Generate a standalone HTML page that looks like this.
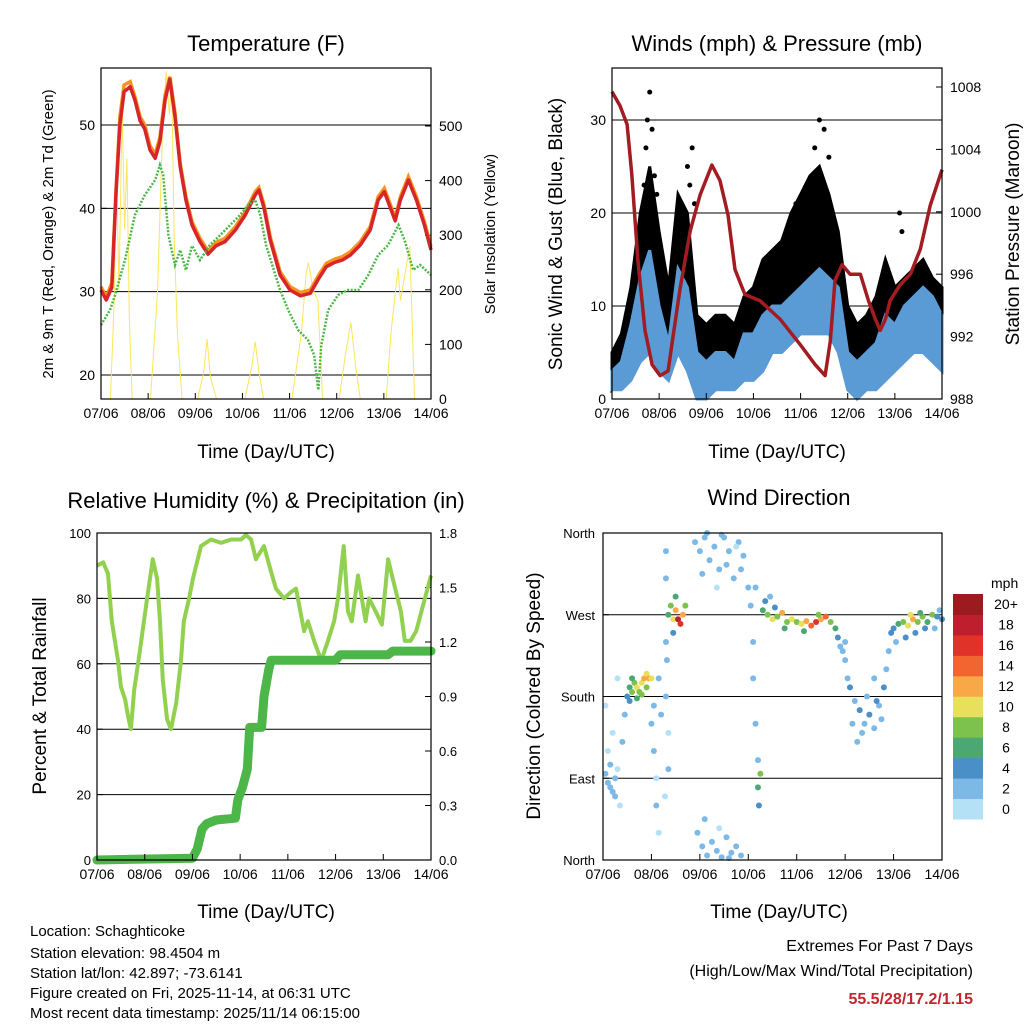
<!DOCTYPE html>
<html><head><meta charset="utf-8">
<style>
html,body{margin:0;padding:0;background:#fff;}
svg{display:block;font-family:"Liberation Sans",sans-serif;}
</style></head>
<body>
<svg id="chart" width="1024" height="1024" viewBox="0 0 1024 1024" xmlns="http://www.w3.org/2000/svg">
<rect width="1024" height="1024" fill="#fff"/>
<g id="layer"></g>
<g font-size="22" text-anchor="middle">
<text x="266" y="51">Temperature (F)</text>
<text x="777" y="51">Winds (mph) &amp; Pressure (mb)</text>
<text x="266" y="508">Relative Humidity (%) &amp; Precipitation (in)</text>
<text x="779" y="505">Wind Direction</text>
</g>
<g font-size="19" text-anchor="middle">
<text x="266" y="458">Time (Day/UTC)</text>
<text x="777" y="458">Time (Day/UTC)</text>
<text x="266" y="918">Time (Day/UTC)</text>
<text x="779" y="918">Time (Day/UTC)</text>
<text transform="translate(562,234) rotate(-90)">Sonic Wind &amp; Gust (Blue, Black)</text>
<text transform="translate(1019,234) rotate(-90)">Station Pressure (Maroon)</text>
<text transform="translate(46,696) rotate(-90)">Percent &amp; Total Rainfall</text>
<text transform="translate(540,696) rotate(-90)">Direction (Colored By Speed)</text>
</g>
<g font-size="15" text-anchor="middle">
<text transform="translate(53,234) rotate(-90)">2m &amp; 9m T (Red, Orange) &amp; 2m Td (Green)</text>
<text transform="translate(495,234) rotate(-90)">Solar Insolation (Yellow)</text>
</g>
<g font-size="15">
<text x="30" y="936">Location: Schaghticoke</text>
<text x="30" y="958">Station elevation: 98.4504 m</text>
<text x="30" y="978">Station lat/lon: 42.897; -73.6141</text>
<text x="30" y="998">Figure created on Fri, 2025-11-14, at 06:31 UTC</text>
<text x="30" y="1018">Most recent data timestamp: 2025/11/14 06:15:00</text>
</g>
<g font-size="16" text-anchor="end">
<text x="973" y="951">Extremes For Past 7 Days</text>
<text x="973" y="976">(High/Low/Max Wind/Total Precipitation)</text>
<text x="973" y="1004" fill="#c1272d" font-weight="bold">55.5/28/17.2/1.15</text>
</g>
</svg>
<script>
// ---- Temperature data (day offset, value) ----
const tDays = [0,.11,.23,.32,.40,.49,.62,.72,.83,.93,1.04,1.15,1.25,1.36,1.46,1.57,1.68,1.80,1.93,2.10,2.27,2.44,2.63,2.85,3.06,3.27,3.35,3.46,3.59,3.80,4.01,4.23,4.44,4.61,4.78,4.95,5.12,5.29,5.50,5.71,5.88,6.01,6.14,6.24,6.35,6.52,6.69,6.86,7.0];
const tRed = [30.2,29,30.5,42,50,54,54.6,53,50.5,49.5,47,46,48,53,55.5,51,45,41,38,36,34.5,35.5,36,37.4,39.2,41.6,42.2,40,36.2,32,30.2,29.5,29.8,31.5,33,33.5,33.8,34.4,35.6,37.4,41,42,40,38.5,41,43.4,41,38,35];
const tOrange = [30.6,29.4,31,42.5,51,54.8,55.2,53.4,51,50,47.5,46.5,48.5,53.6,55.8,51.5,45.4,41.4,38.4,36.4,34.9,35.9,36.4,37.8,39.6,42,42.5,40.4,36.6,32.4,30.6,29.9,30.2,31.9,33.4,33.9,34.2,34.8,36,37.8,41.4,42.4,40.4,38.9,41.4,43.8,41.4,38.4,35.4];
const tdDays = [0,.19,.30,.51,.72,.93,1.15,1.25,1.32,1.43,1.57,1.68,1.80,1.93,2.10,2.31,2.53,2.74,2.95,3.12,3.27,3.38,3.50,3.80,3.97,4.18,4.39,4.52,4.61,4.67,4.82,5.03,5.24,5.46,5.67,5.88,6.09,6.31,6.45,6.62,6.77,7.0];
const tdVals = [26,27.8,29.6,33.8,39.2,41.6,43.4,45.2,44,36.8,33.2,35,32.6,35.5,33.8,35.6,36.8,38,39.2,40.4,41,39.2,35.6,30.2,27.8,25.4,24.2,22.4,18.2,23.5,27.8,29.6,30.2,30.2,32,34.4,35.6,38,36,32.6,33.2,32];
const solDays = [0,.2,.28,.33,.38,.45,.5,.55,.6,.66,1.05,1.2,1.3,1.38,1.45,1.5,1.55,1.62,1.72,2.05,2.18,2.25,2.32,2.45,3.05,3.2,3.27,3.35,3.45,4.05,4.25,4.35,4.4,4.5,4.6,4.7,5.05,5.2,5.3,5.4,5.5,6.05,6.15,6.3,6.35,6.45,6.55,6.65,7.0];
const solVals = [0,0,180,420,200,530,310,440,150,0,0,200,480,600,520,590,300,120,0,0,50,110,40,0,0,60,105,50,0,0,120,230,250,200,180,0,0,90,140,60,0,0,120,240,180,230,280,0,0];
// ---- Winds ----
const wDays = [0,.2,.4,.6,.8,1,1.2,1.4,1.6,1.8,2,2.2,2.4,2.6,2.8,3,3.2,3.4,3.6,3.8,4,4.2,4.4,4.6,4.8,5,5.2,5.4,5.6,5.8,6,6.2,6.4,6.6,6.8,7];
const windLo = [1,1,2,4,5,3,2,5,3,0,0,1,1,1,2,2,3,5,5,6,7,7,7,7,5,1,0,1,1,2,3,4,5,5,4,3];
const windHi = [3,4,8,13,16,10,6,14,12,5,4,5,5,4,7,7,9,10,10,11,12,13,14,13,12,5,4,5,6,9,8,10,11,12,11,9];
const gustLo = [1,2,4,8,10,6,5,10,8,2,2,3,3,2,4,4,6,8,9,10,11,12,12,10,8,2,2,2,3,4,5,6,7,7,6,5];
const gustHi = [5,7,12,20,25,18,12,22,20,9,8,9,9,8,11,12,15,16,17,20,22,24,25,22,18,10,8,9,11,15,12,13,14,15,13,12];
const gustOutDays = [.8,.75,.85,.72,1.7,1.6,4.4,4.5,4.6,.9,6.1,6.15,3.9,1.75,.68,.95,4.3,1.65];
const gustOutVals = [33,30,29,27,27,25,30,29,26,24,20,18,21,21,23,22,27,23];
const pDays = [0,.17,.32,.42,.55,.7,.85,1.02,1.19,1.27,1.44,1.66,1.87,2.12,2.29,2.46,2.61,2.82,3.14,3.57,3.99,4.31,4.52,4.63,4.73,4.88,5.05,5.27,5.44,5.59,5.69,5.80,5.90,6.11,6.33,6.54,6.75,7.0];
const pVals = [1007.7,1006.8,1005.6,1002.4,996.9,992.4,990.2,989.5,989.8,991.5,995,998.8,1001.1,1003,1002,999.8,996.3,994.7,994.3,993.1,991.5,990.2,989.5,991.7,995.6,996.6,996,996,994.3,993.1,992.4,993.1,994.3,995.3,996,997.6,1000.4,1002.7];
// ---- RH & precip ----
const rhDays = [0,.13,.23,.31,.44,.5,.59,.65,.71,.78,.9,1.05,1.17,1.26,1.32,1.38,1.47,1.55,1.66,1.76,1.82,1.93,2.01,2.18,2.39,2.6,2.81,3.02,3.12,3.23,3.33,3.5,3.65,3.75,3.92,4.07,4.17,4.34,4.42,4.55,4.7,4.84,4.97,5.05,5.17,5.26,5.34,5.47,5.63,5.7,5.84,5.97,6.1,6.2,6.37,6.45,6.57,6.69,7.0];
const rhVals = [90,91,87.5,73,61,53,49,44,40,52,64,80,92,86,73,55,43,40,48,61,73,80,86,96,98,97,98,98,99.4,98,92,96,88,83,80,82,83,70,73,67,61,67,73,80,96,76,73,87,73,80,76,72,92,86,76,67,67,70,87];
const prDays = [0,2.0,2.1,2.2,2.3,2.5,2.9,2.95,3.05,3.15,3.2,3.45,3.5,3.6,3.65,5.0,5.1,6.1,6.2,7.0];
const prVals = [0,0.01,0.06,0.17,0.2,0.22,0.23,0.33,0.4,0.5,0.73,0.73,0.9,1.05,1.1,1.1,1.13,1.13,1.15,1.15];
// ---- Wind direction ----
const dirDays = [.05,.1,.15,.2,.25,.3,.1,.2,.05,.35,.4,.45,.3,.15,.25, .5,.55,.6,.65,.7,.75,.8,.85,.9,.95,1,.55,.7,.8,.6,.9, 1,1.05,1.1,1.1,1.15,1.2,1.05,1.15, 1.35,1.4,1.45,1.5,1.55,1.6,1.65,1.7,1.5,1.45, 1.3,1.3,1.32,1.3,1.35,1.35,1.28,1.3, 1.9,2,2.1,2.2,2.3,2.4,2.5,2.6,2.7,2.8,2.9,3,2.05,2.35,2.55,2.75,2.15,2.45,2.85, 1.95,2.05,2.15,2.25,2.35,2.45,2.55,2.65,2.75,2.85,2.1,2.4,2.6, 3.05,3.1,3.1,3.15,3.2,3.2,3.25,3.22,3.15, 3.3,3.4,3.5,3.6,3.7,3.8,3.9,4,4.1,4.2,4.3,4.4,4.5,4.6,4.7,4.8,3.35,3.55,3.75,4.15,4.45,4.85,3.45,4.9, 4.95,5,5.05,5.1,5.2,5.3,5.4,5.5,5.6,5.7,5.8,5.85,5.9,5,5.15,5.25,5.45,5.6,5.75,5.35,5.65, 5.95,6,6.1,6.2,6.3,6.4,6.5,6.6,6.7,6.8,6.9,7,6.05,6.25,6.45,6.65,6.85,6.35,6.55,6.95];
const dirDeg = [95,85,80,75,90,100,120,140,170,60,130,160,200,105,70, 180,190,185,195,190,185,195,200,205,200,200,175,178,182,200,190, 150,120,90,60,30,160,170,200, 270,280,265,275,265,260,270,280,290,250, 340,310,220,180,140,100,70,240, 350,340,355,330,345,320,355,340,310,350,335,300,315,300,325,345,360,358,320, 30,15,5,20,10,3,25,8,15,5,45,35,2, 280,240,200,150,110,80,95,60,300, 275,270,265,268,272,262,265,262,260,263,258,262,265,268,262,255,285,278,255,252,270,245,290,235, 230,220,200,190,175,165,150,160,145,170,190,210,230,240,150,130,180,200,155,140,175, 250,255,260,262,258,265,262,268,262,270,268,265,240,245,250,255,255,270,272,275];
const dirSpd = [2,3,2,3,2,1,1,1,1,1,2,2,1,3,2, 5,6,8,9,10,8,11,12,11,12,10,4,7,9,7,9, 2,2,1,2,1,3,2,3, 6,8,10,12,18,16,12,8,6,5, 2,3,2,2,1,2,1,2, 2,3,2,3,2,3,2,3,2,3,2,3,2,1,2,1,2,3,3, 2,3,2,3,2,3,2,2,3,2,2,1,3, 3,2,2,2,3,7,8,4,2, 6,8,10,9,12,8,10,9,11,12,14,16,12,14,8,6,4,5,7,6,9,4,3,3, 3,2,3,4,3,4,3,4,3,2,4,3,2,2,2,2,3,2,3,3,4, 4,5,6,8,10,12,9,8,6,8,5,4,3,4,5,4,3,11,6,3];
const spdColors = ['#b5e1f7','#7db9e6','#4a8fc6','#4ba873','#7dc24d','#e8e05a','#f9a848','#f26531','#e03228','#be1e2d','#9b1b1e'];
const spdLabels = ['0','2','4','6','8','10','12','14','16','18','20+'];
const dayLabels = ['07/06','08/06','09/06','10/06','11/06','12/06','13/06','14/06'];

const NS='http://www.w3.org/2000/svg';
const layer=document.getElementById('layer');
function mk(tag,attrs,parent){const e=document.createElementNS(NS,tag);for(const k in attrs)e.setAttribute(k,attrs[k]);(parent||layer).appendChild(e);return e;}
function lin(d0,d1,r0,r1){return v=>r0+(v-d0)*(r1-r0)/(d1-d0);}
function pathOf(xs,ys,fx,fy){return xs.map((v,i)=>(i?'L':'M')+fx(v).toFixed(1)+','+fy(ys[i]).toFixed(1)).join('');}

function frame(g,L,T,R,B,fx,ticks){
  // x ticks and labels
  dayLabels.forEach((lab,i)=>{
    const x=fx(i);
    const t=mk('line',{x1:x,x2:x,y1:B,y2:B-6,stroke:'#000'},g);
    
    
    const tx=mk('text',{x:x,y:B+19,'font-size':14,'text-anchor':'middle'},g);
    
    
    tx.textContent=lab;
  });
}
function yAxis(g,L,R,vals,labels,fy,side,grid,fs){
  vals.forEach((v,i)=>{
    const y=fy(v);
    if(grid){const gl=mk('line',{x1:L,x2:R,y1:y,y2:y,stroke:'#000','stroke-width':1},g);
      
      }
    const x0=side==='l'?L:R;
    const tk=mk('line',{x1:x0,x2:side==='l'?x0+6:x0-6,y1:y,y2:y,stroke:'#000'},g);
    
    
    const t=mk('text',{x:side==='l'?L-6:R+8,y:y+5,'font-size':fs||14,'text-anchor':side==='l'?'end':'start'},g);
    
    
    t.textContent=labels[i];
  });
}
function box(g,L,T,R,B){const r=mk('rect',{x:L,y:T,width:R-L,height:B-T,fill:'none',stroke:'#000','stroke-width':1.2},g);
  
  }

// ===== Panel 1: temperature =====
(function(){
  const L=101,T=68,R=431,B=399;
  const g=mk('g',{});
  
  
  const fx=lin(0,7,L,R), fy=lin(20,50,375,125), fs=lin(0,500,399,126);
  yAxis(g,L,R,[20,30,40,50],['20','30','40','50'],fy,'l',true);
  yAxis(g,L,R,[0,100,200,300,400,500],['0','100','200','300','400','500'],fs,'r',false);
  const sol=mk('path',{d:pathOf(solDays,solVals,fx,fs),fill:'none',stroke:'#fde55a','stroke-width':1},g);
  
  
  const o=mk('path',{d:pathOf(tDays,tOrange,fx,fy),fill:'none',stroke:'#f7941d','stroke-width':3.5},g);
  
  
  const r=mk('path',{d:pathOf(tDays,tRed,fx,fy),fill:'none',stroke:'#d7262b','stroke-width':3.5,'stroke-linejoin':'round'},g);
  
  
  const gd=mk('path',{d:pathOf(tdDays,tdVals,fx,fy),fill:'none',stroke:'#4cb648','stroke-width':2.5,'stroke-dasharray':'2 1.5'},g);
  
  
  box(g,L,T,R,B); frame(g,L,T,R,B,fx);
})();

// ===== Panel 2: winds =====
(function(){
  const L=612,T=68,R=942,B=399;
  const g=mk('g',{});
  
  
  const fx=lin(0,7,L,R), fy=lin(0,30,399,120), fp=lin(988,1008,399,87);
  yAxis(g,L,R,[0,10,20,30],['0','10','20','30'],fy,'l',true);
  yAxis(g,L,R,[988,992,996,1000,1004,1008],['988','992','996','1000','1004','1008'],fp,'r',false);
  const band=(lo,hi,col,name)=>{
    let d=wDays.map((t,i)=>(i?'L':'M')+fx(t).toFixed(1)+','+fy(hi[i]).toFixed(1)).join('');
    for(let i=wDays.length-1;i>=0;i--)d+='L'+fx(wDays[i]).toFixed(1)+','+fy(lo[i]).toFixed(1);
    const p=mk('path',{d:d+'Z',fill:col,stroke:col,'stroke-width':3},g);
    
    
  };
  band(gustLo,gustHi,'#000','gust-band');
  gustOutDays.forEach((t,i)=>{
    const c=mk('circle',{cx:fx(t),cy:fy(gustOutVals[i]),r:2.5,fill:'#000'},g);
    
    
  });
  band(windLo,windHi,'#5b9bd5','wind-band');
  const p=mk('path',{d:pathOf(pDays,pVals,fx,fp),fill:'none',stroke:'#a31c22','stroke-width':3.5,'stroke-linejoin':'round'},g);
  
  
  box(g,L,T,R,B); frame(g,L,T,R,B,fx);
})();

// ===== Panel 3: RH & precip =====
(function(){
  const L=97,T=533,R=431,B=860;
  const g=mk('g',{});
  
  
  const fx=lin(0,7,L,R), fy=lin(0,100,860,533), fpr=lin(0,1.8,860,533);
  yAxis(g,L,R,[0,20,40,60,80,100],['0','20','40','60','80','100'],fy,'l',true,13);
  yAxis(g,L,R,[0,.3,.6,.9,1.2,1.5,1.8],['0.0','0.3','0.6','0.9','1.2','1.5','1.8'],fpr,'r',false,13);
  const rh=mk('path',{d:pathOf(rhDays,rhVals,fx,fy),fill:'none',stroke:'#92d050','stroke-width':4,'stroke-linejoin':'round'},g);
  
  
  const pr=mk('path',{d:pathOf(prDays,prVals,fx,fpr),fill:'none',stroke:'#4cb648','stroke-width':9,'stroke-linejoin':'round','stroke-linecap':'round'},g);
  
  
  box(g,L,T,R,B); frame(g,L,T,R,B,fx);
})();

// ===== Panel 4: wind direction =====
(function(){
  const L=603,T=533,R=942,B=860;
  const g=mk('g',{});
  
  
  const fx=lin(0,7,L,R), fy=lin(0,360,860,533);
  yAxis(g,L,R,[90,180,270],['','',''],fy,'l',true);
  [[0,'North'],[90,'East'],[180,'South'],[270,'West'],[360,'North']].forEach(([v,lab])=>{
    const t=mk('text',{x:L-8,y:fy(v)+5,'font-size':13,'text-anchor':'end'},g);
    
    
    t.textContent=lab;
  });
  dirDays.forEach((t,i)=>{
    const bin=Math.min(10,Math.floor(dirSpd[i]/2));
    const c=mk('circle',{cx:fx(t),cy:fy(dirDeg[i]),r:3,fill:spdColors[bin]},g);
    
    
  });
  box(g,L,T,R,B); frame(g,L,T,R,B,fx);
  // colorbar
  const cb=mk('g',{});
  
  
  const ct=mk('text',{x:991,y:588,'font-size':14},cb);
  
  
  ct.textContent='mph';
  const h=225/11;
  spdColors.forEach((col,i)=>{
    const y=594+(10-i)*h;
    const r=mk('rect',{x:953,y:y,width:30,height:h+0.5,fill:col},cb);
    
    
    const t=mk('text',{x:1006,y:y+h/2+5,'font-size':14,'text-anchor':'middle'},cb);
    
    
    t.textContent=spdLabels[i];
  });
})();
</script>
</body></html>
